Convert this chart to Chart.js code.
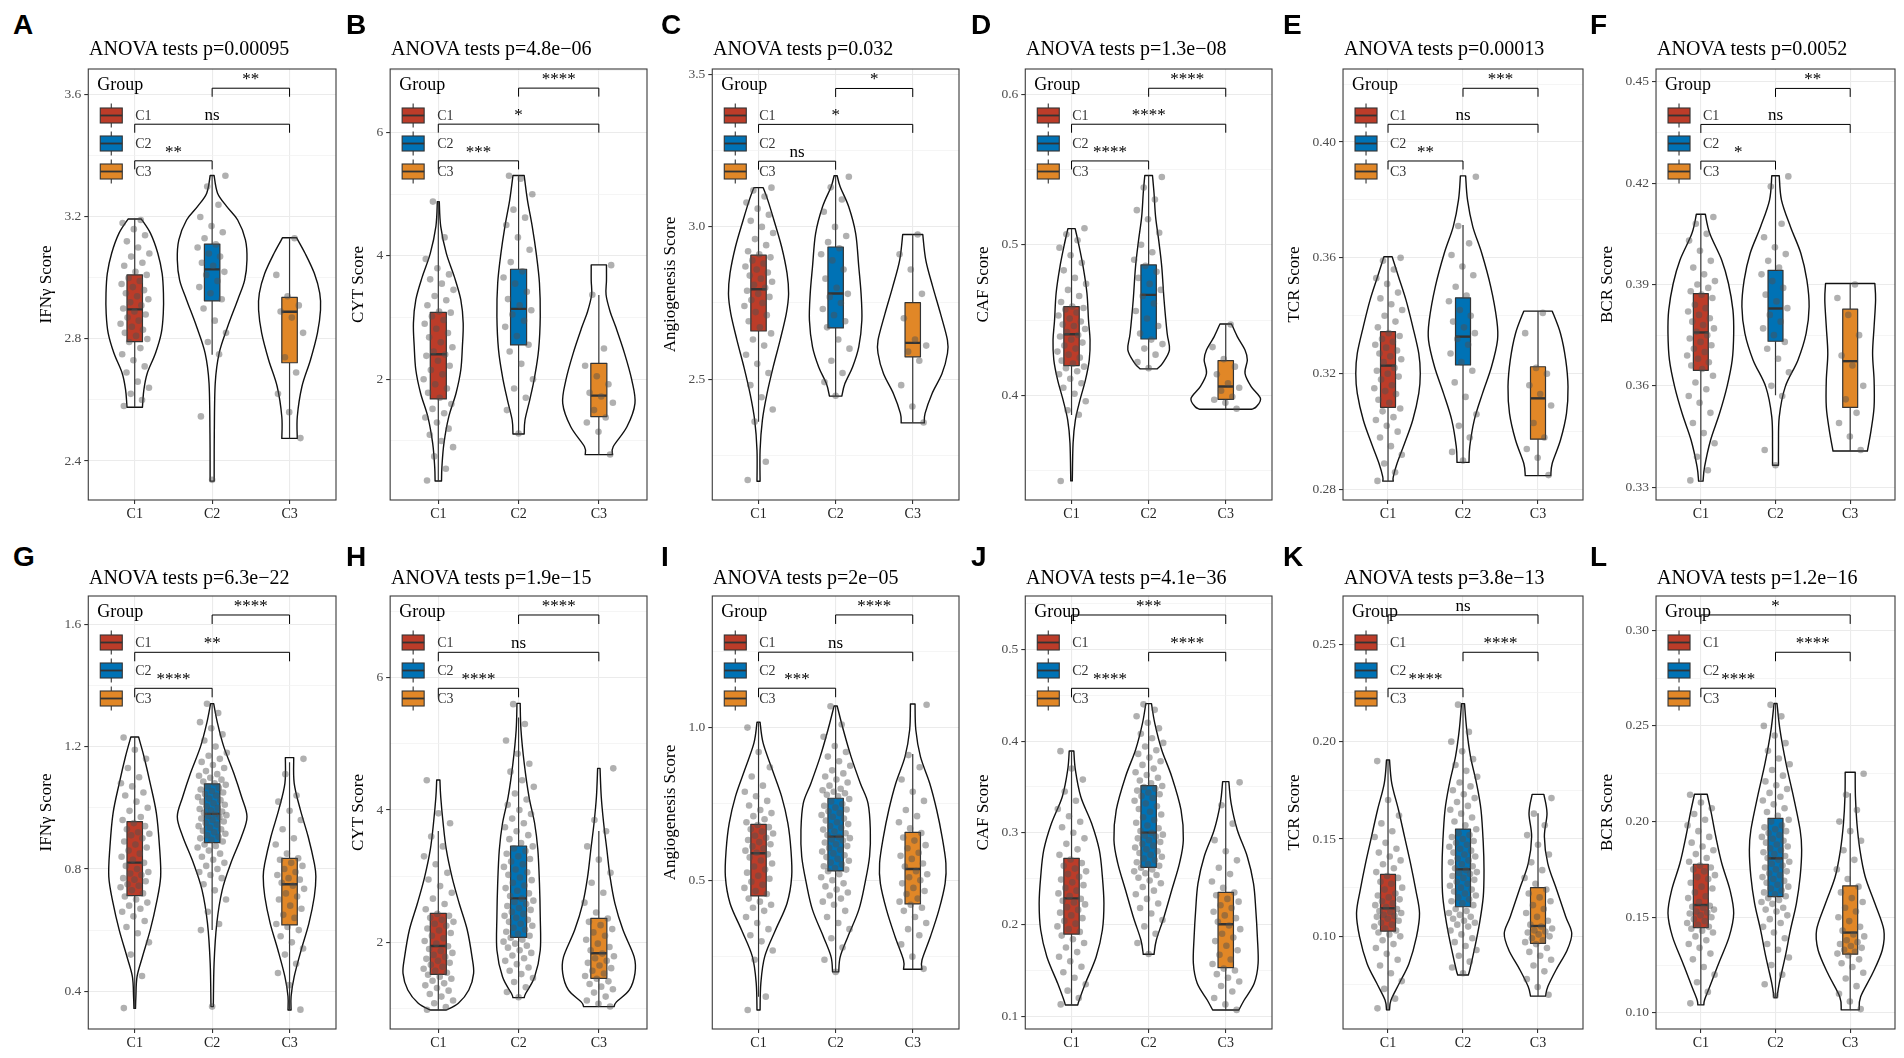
<!DOCTYPE html>
<html><head><meta charset="utf-8">
<script src="https://cdn.jsdelivr.net/npm/chart.js@4.4.0/dist/chart.umd.min.js"></script>
<style>
html,body{margin:0;padding:0;background:#fff;}
body{position:relative;width:1904px;height:1058px;overflow:hidden;}
.lbl{position:absolute;font-family:'Liberation Sans',Arial,sans-serif;font-weight:bold;font-size:28px;line-height:28px;color:#000;white-space:nowrap;}
.ttl{position:absolute;font-family:'Liberation Serif','Times New Roman',serif;font-size:20px;line-height:20px;color:#000;white-space:nowrap;}
canvas{position:absolute;}
</style></head><body>
<script>
// ---------------- DATA ----------------
const CATEGORIES = ['C1','C2','C3'];
const LEGEND_TITLE = 'Group';
const PANEL_LETTERS = ['A','B','C','D','E','F','G','H','I','J','K','L'];
const PANEL_TITLES = ['ANOVA tests p=0.00095','ANOVA tests p=4.8e\u221206','ANOVA tests p=0.032','ANOVA tests p=1.3e\u221208','ANOVA tests p=0.00013','ANOVA tests p=0.0052',
  'ANOVA tests p=6.3e\u221222','ANOVA tests p=1.9e\u221215','ANOVA tests p=2e\u221205','ANOVA tests p=4.1e\u221236','ANOVA tests p=3.8e\u221213','ANOVA tests p=1.2e\u221216'];
const Y_TITLES = ['IFN\u03b3 Score','CYT Score','Angiogenesis Score','CAF Score','TCR Score','BCR Score',
  'IFN\u03b3 Score','CYT Score','Angiogenesis Score','CAF Score','TCR Score','BCR Score'];
const Y_RANGES = [[2.272,3.685],[0.043,7.03],[2.1025,3.519],[0.3304,0.6168],[0.2764,0.4252],[0.3262,0.4538],
  [0.2767,1.6925],[0.690,7.235],[0.013,1.431],[0.0862,0.5581],[0.0524,0.2748],[0.0916,0.3179]];
const Y_MAJOR = [[2.4,2.8,3.2,3.6],[2,4,6],[2.5,3.0,3.5],[0.4,0.5,0.6],[0.28,0.32,0.36,0.40],[0.33,0.36,0.39,0.42,0.45],
  [0.4,0.8,1.2,1.6],[2,4,6],[0.5,1.0],[0.1,0.2,0.3,0.4,0.5],[0.10,0.15,0.20,0.25],[0.10,0.15,0.20,0.25,0.30]];
const Y_MAJOR_LABELS = [['2.4','2.8','3.2','3.6'],['2','4','6'],['2.5','3.0','3.5'],['0.4','0.5','0.6'],['0.28','0.32','0.36','0.40'],['0.33','0.36','0.39','0.42','0.45'],
  ['0.4','0.8','1.2','1.6'],['2','4','6'],['0.5','1.0'],['0.1','0.2','0.3','0.4','0.5'],['0.10','0.15','0.20','0.25'],['0.10','0.15','0.20','0.25','0.30']];
const Y_MINOR = [[2.6,3.0,3.4],[1,3,5,7],[2.25,2.75,3.25],[0.35,0.45,0.55],[0.30,0.34,0.38,0.42],[0.345,0.375,0.405,0.435],
  [0.6,1.0,1.4],[1,3,5,7],[0.25,0.75,1.25],[0.15,0.25,0.35,0.45,0.55],[0.075,0.125,0.175,0.225],[0.125,0.175,0.225,0.275]];

// box statistics per panel, per group: [lower whisker, Q1, median, Q3, upper whisker]
const BOX_STATS = [
  [[2.576,2.791,2.897,3.010,3.193],[2.748,2.925,3.028,3.111,3.336],[2.474,2.722,2.889,2.936,3.132]],
  [[0.351,1.681,2.405,3.086,4.88],[1.114,2.557,3.141,3.784,5.303],[0.778,1.395,1.735,2.259,3.368]],
  [[2.36,2.658,2.795,2.907,3.129],[2.444,2.668,2.781,2.934,3.168],[2.356,2.573,2.619,2.751,2.975]],
  [[0.3869,0.4197,0.4405,0.4589,0.5107],[0.4175,0.4374,0.4667,0.4866,0.546],[0.3907,0.3973,0.4058,0.423,0.4474]],
  [[0.283,0.3084,0.3228,0.3345,0.3604],[0.2894,0.323,0.3328,0.3462,0.3713],[0.2848,0.2974,0.3115,0.3224,0.3416]],
  [[0.332,0.3646,0.3758,0.3873,0.4108],[0.3572,0.3732,0.3829,0.3942,0.4222],[0.3407,0.3536,0.3673,0.3827,0.3903]],
  [[0.344,0.7128,0.8207,0.9548,1.2316],[0.6,0.8861,0.98,1.078,1.3406],[0.339,0.6169,0.7499,0.8349,1.149]],
  [[0.977,1.516,1.945,2.438,3.683],[1.164,2.076,2.665,3.456,5.4],[1.028,1.456,1.834,2.363,3.683]],
  [[0.119,0.4487,0.5884,0.6834,1.0175],[0.2,0.5306,0.643,0.7686,1.071],[0.2085,0.4225,0.5371,0.6572,0.9138]],
  [[0.1124,0.1897,0.2286,0.2722,0.3892],[0.1676,0.2624,0.3002,0.3514,0.4408],[0.1069,0.153,0.2003,0.2352,0.3558]],
  [[0.062,0.1027,0.1144,0.1318,0.1906],[0.0801,0.1152,0.1344,0.1551,0.2195],[0.0693,0.0964,0.1053,0.125,0.1632]],
  [[0.1042,0.1446,0.1564,0.1777,0.2143],[0.108,0.1608,0.1808,0.2017,0.2617],[0.1016,0.1307,0.142,0.1664,0.2148]]
];

// violin density profiles per group: [value, half-width in category units]
const VIOLIN_A = [
  [[3.193,0.086],[3.146,0.204],[3.081,0.298],[3.015,0.354],[2.950,0.371],[2.884,0.369],[2.819,0.343],[2.753,0.268],[2.687,0.161],[2.633,0.118],[2.589,0.103],[2.576,0.10]],
  [[3.336,0.025],[3.278,0.07],[3.234,0.19],[3.19,0.33],[3.125,0.43],[3.06,0.45],[2.993,0.42],[2.928,0.33],[2.84,0.2],[2.753,0.09],[2.655,0.04],[2.49,0.028],[2.334,0.026]],
  [[3.132,0.09],[3.081,0.2],[3.015,0.32],[2.95,0.39],[2.895,0.40],[2.819,0.36],[2.731,0.27],[2.644,0.16],[2.545,0.10],[2.474,0.10]]];
const VIOLIN_B = [
  [[4.88,0.012],[4.48,0.03],[4.04,0.1],[3.66,0.2],[3.29,0.28],[2.91,0.31],[2.53,0.3],[2.15,0.28],[1.77,0.22],[1.39,0.13],[0.96,0.07],[0.58,0.045],[0.351,0.04]],
  [[5.303,0.07],[4.91,0.11],[4.48,0.17],[4.04,0.22],[3.56,0.26],[3.02,0.27],[2.48,0.25],[2.04,0.2],[1.67,0.14],[1.34,0.08],[1.114,0.07]],
  [[3.854,0.095],[3.6,0.095],[3.37,0.09],[3.1,0.14],[2.85,0.21],[2.42,0.32],[1.99,0.41],[1.61,0.45],[1.23,0.35],[0.91,0.18],[0.778,0.17]]];
const VIOLIN_C = [
  [[3.129,0.06],[3.088,0.12],[3.022,0.2],[2.934,0.3],[2.847,0.37],[2.78,0.39],[2.715,0.36],[2.628,0.28],[2.54,0.19],[2.452,0.11],[2.365,0.05],[2.266,0.02],[2.164,0.02]],
  [[3.168,0.02],[3.131,0.06],[3.066,0.17],[2.978,0.26],[2.869,0.3],[2.78,0.33],[2.693,0.34],[2.606,0.3],[2.54,0.22],[2.485,0.12],[2.444,0.08]],
  [[2.975,0.13],[2.89,0.17],[2.803,0.26],[2.715,0.36],[2.628,0.45],[2.584,0.45],[2.518,0.38],[2.452,0.25],[2.387,0.16],[2.356,0.15]]];
const VIOLIN_D = [
  [[0.5107,0.047],[0.501,0.09],[0.4855,0.15],[0.4678,0.2],[0.450,0.22],[0.4368,0.24],[0.4235,0.23],[0.410,0.18],[0.3969,0.11],[0.3836,0.05],[0.3681,0.02],[0.3431,0.01]],
  [[0.546,0.05],[0.5342,0.07],[0.5187,0.09],[0.5032,0.13],[0.4855,0.17],[0.4633,0.2],[0.4412,0.24],[0.4301,0.27],[0.4212,0.18],[0.4175,0.11]],
  [[0.4474,0.075],[0.439,0.15],[0.4301,0.25],[0.4235,0.28],[0.4146,0.25],[0.4058,0.33],[0.398,0.45],[0.3925,0.4],[0.3907,0.34]]];
const VIOLIN_E = [
  [[0.3604,0.055],[0.3535,0.14],[0.3454,0.24],[0.3362,0.33],[0.327,0.41],[0.3201,0.43],[0.3132,0.41],[0.304,0.33],[0.2959,0.22],[0.289,0.12],[0.2844,0.07],[0.2829,0.07]],
  [[0.3883,0.035],[0.38,0.06],[0.3708,0.13],[0.3616,0.25],[0.35,0.37],[0.3385,0.45],[0.3316,0.46],[0.3224,0.38],[0.3132,0.26],[0.304,0.15],[0.2948,0.09],[0.2894,0.08]],
  [[0.3416,0.19],[0.3339,0.3],[0.3247,0.37],[0.3155,0.4],[0.3063,0.38],[0.2971,0.3],[0.2891,0.19],[0.2848,0.17]]];
const VIOLIN_F = [
  [[0.4108,0.06],[0.4051,0.12],[0.3972,0.28],[0.3903,0.37],[0.3824,0.43],[0.3755,0.44],[0.3676,0.42],[0.3597,0.35],[0.3518,0.25],[0.3439,0.13],[0.336,0.05],[0.3318,0.03]],
  [[0.4222,0.05],[0.415,0.08],[0.4071,0.2],[0.3992,0.34],[0.3913,0.42],[0.3834,0.45],[0.3755,0.41],[0.3676,0.3],[0.3597,0.13],[0.3508,0.05],[0.3419,0.04],[0.3365,0.04]],
  [[0.3903,0.33],[0.3854,0.34],[0.3775,0.32],[0.3696,0.30],[0.3617,0.32],[0.3538,0.32],[0.3469,0.28],[0.3407,0.23]]];
const VIOLIN_G = [
  [[1.2316,0.05],[1.167,0.12],[1.08,0.2],[0.982,0.28],[0.873,0.32],[0.775,0.335],[0.688,0.28],[0.6,0.2],[0.513,0.1],[0.448,0.03],[0.383,0.015],[0.344,0.01]],
  [[1.3406,0.02],[1.276,0.07],[1.2,0.15],[1.113,0.28],[1.036,0.38],[0.971,0.45],[0.906,0.38],[0.818,0.24],[0.731,0.13],[0.622,0.06],[0.491,0.025],[0.35,0.015]],
  [[1.164,0.054],[1.08,0.06],[0.993,0.14],[0.906,0.24],[0.818,0.32],[0.775,0.34],[0.71,0.32],[0.622,0.25],[0.535,0.15],[0.448,0.06],[0.383,0.02],[0.339,0.02]]];
const VIOLIN_H = [
  [[4.453,0.02],[4.2,0.03],[3.8,0.06],[3.4,0.1],[2.99,0.17],[2.59,0.26],[2.19,0.36],[1.78,0.42],[1.53,0.44],[1.28,0.38],[1.08,0.25],[0.977,0.1]],
  [[5.612,0.02],[5.21,0.03],[4.71,0.07],[4.2,0.13],[3.8,0.2],[3.4,0.24],[2.9,0.26],[2.39,0.27],[1.88,0.27],[1.48,0.2],[1.23,0.09],[1.164,0.07]],
  [[4.63,0.015],[4.2,0.03],[3.8,0.06],[3.4,0.1],[2.99,0.14],[2.59,0.2],[2.19,0.3],[1.78,0.44],[1.53,0.45],[1.28,0.38],[1.1,0.22],[1.028,0.19]]];
const VIOLIN_I = [
  [[1.0175,0.02],[0.949,0.06],[0.861,0.18],[0.774,0.3],[0.687,0.38],[0.6,0.42],[0.512,0.43],[0.425,0.37],[0.337,0.22],[0.25,0.08],[0.163,0.03],[0.075,0.02]],
  [[1.071,0.02],[0.992,0.1],[0.905,0.2],[0.818,0.32],[0.752,0.42],[0.665,0.45],[0.578,0.44],[0.49,0.38],[0.403,0.3],[0.316,0.16],[0.25,0.06],[0.2,0.04]],
  [[1.0775,0.03],[0.992,0.04],[0.905,0.1],[0.818,0.22],[0.731,0.31],[0.643,0.38],[0.556,0.43],[0.49,0.42],[0.403,0.34],[0.316,0.23],[0.239,0.12],[0.2085,0.12]]];
const VIOLIN_J = [
  [[0.3892,0.03],[0.3685,0.05],[0.3394,0.12],[0.3104,0.26],[0.2813,0.36],[0.2522,0.4],[0.2232,0.42],[0.1941,0.4],[0.165,0.32],[0.136,0.18],[0.1178,0.1],[0.1124,0.08]],
  [[0.4408,0.037],[0.4193,0.08],[0.3903,0.17],[0.3612,0.3],[0.3249,0.42],[0.2922,0.45],[0.2668,0.4],[0.2377,0.3],[0.2086,0.2],[0.1832,0.1],[0.1676,0.07]],
  [[0.3558,0.04],[0.3322,0.07],[0.3031,0.15],[0.274,0.28],[0.245,0.36],[0.2159,0.39],[0.1868,0.41],[0.1578,0.42],[0.136,0.37],[0.1178,0.24],[0.1069,0.17]]];
const VIOLIN_K = [
  [[0.1906,0.02],[0.1786,0.05],[0.1649,0.14],[0.1512,0.22],[0.1375,0.3],[0.1238,0.37],[0.1118,0.42],[0.0998,0.38],[0.0861,0.28],[0.0759,0.15],[0.0673,0.04],[0.0622,0.02]],
  [[0.2195,0.02],[0.206,0.05],[0.1923,0.1],[0.1786,0.18],[0.1649,0.24],[0.1478,0.27],[0.1341,0.28],[0.1204,0.27],[0.1067,0.22],[0.093,0.15],[0.0827,0.09],[0.0801,0.07]],
  [[0.1729,0.078],[0.1632,0.12],[0.1512,0.085],[0.1375,0.13],[0.1238,0.25],[0.1101,0.37],[0.1015,0.45],[0.093,0.39],[0.0827,0.24],[0.0741,0.13],[0.0693,0.1]]];
const VIOLIN_L = [
  [[0.2143,0.085],[0.2044,0.14],[0.1922,0.2],[0.1782,0.28],[0.1643,0.39],[0.1521,0.44],[0.1399,0.38],[0.126,0.24],[0.1138,0.12],[0.1068,0.05],[0.1042,0.04]],
  [[0.2617,0.02],[0.2479,0.06],[0.2305,0.14],[0.2131,0.24],[0.1956,0.33],[0.1852,0.35],[0.1713,0.33],[0.1573,0.28],[0.1434,0.2],[0.1294,0.13],[0.1155,0.05],[0.108,0.02]],
  [[0.2258,0.067],[0.2131,0.07],[0.1991,0.09],[0.1852,0.13],[0.1713,0.2],[0.1573,0.33],[0.1434,0.45],[0.1329,0.43],[0.1207,0.3],[0.1085,0.14],[0.1016,0.12]]];

// individual sample scores
const POINTS_A = [
  [2.58,2.60,2.62,2.64,2.66,2.69,2.71,2.73,2.75,2.77,2.79,2.80,2.81,2.82,2.83,2.84,2.85,2.86,2.87,2.88,2.89,2.90,2.91,2.92,2.93,2.94,2.95,2.96,2.97,2.98,2.99,3.00,3.01,3.02,3.04,3.05,3.07,3.08,3.10,3.12,3.14,3.16,3.18,3.19],
  [2.338,2.546,2.75,2.79,2.82,2.86,2.90,2.93,2.95,2.97,2.99,3.01,3.02,3.04,3.05,3.07,3.08,3.10,3.11,3.13,3.15,3.17,3.20,3.24,3.30,3.335],
  [2.475,2.56,2.62,2.69,2.74,2.82,2.87,2.89,2.91,2.94,3.01,3.13]];
const POINTS_B = [
  [0.36,0.55,0.75,0.9,1.0,1.1,1.2,1.3,1.38,1.45,1.52,1.6,1.7,1.78,1.85,1.92,2.0,2.08,2.15,2.22,2.3,2.38,2.4,2.45,2.52,2.6,2.68,2.75,2.82,2.9,2.96,3.02,3.08,3.1,3.2,3.28,3.35,3.45,3.55,3.62,3.7,3.8,3.95,4.3,4.88],
  [1.12,1.5,1.7,1.85,2.0,2.25,2.45,2.56,2.7,2.85,2.95,3.05,3.12,3.2,3.3,3.42,3.55,3.65,3.75,3.9,4.1,4.3,4.5,4.62,4.75,5.0,5.25,5.3],
  [0.78,1.15,1.3,1.38,1.5,1.62,1.72,1.78,1.92,2.05,2.22,2.5,3.37,3.85]];
const POINTS_C = [
  [2.168,2.228,2.36,2.40,2.44,2.48,2.52,2.55,2.58,2.61,2.63,2.65,2.67,2.69,2.71,2.72,2.74,2.75,2.76,2.77,2.78,2.79,2.80,2.81,2.82,2.83,2.84,2.85,2.86,2.87,2.88,2.89,2.90,2.91,2.92,2.94,2.96,2.98,3.00,3.02,3.04,3.06,3.08,3.10,3.12,3.129],
  [2.445,2.49,2.52,2.56,2.60,2.63,2.67,2.69,2.71,2.73,2.75,2.77,2.78,2.80,2.83,2.86,2.89,2.91,2.93,2.95,2.97,3.00,3.05,3.09,3.13,3.165],
  [2.357,2.41,2.48,2.56,2.59,2.61,2.63,2.70,2.78,2.86,2.91,2.975]];
const POINTS_D = [
  [0.343,0.387,0.390,0.396,0.401,0.405,0.408,0.411,0.414,0.416,0.418,0.419,0.421,0.423,0.425,0.427,0.429,0.431,0.433,0.435,0.437,0.439,0.440,0.442,0.444,0.446,0.447,0.449,0.451,0.453,0.455,0.457,0.458,0.459,0.462,0.466,0.470,0.474,0.478,0.483,0.488,0.493,0.498,0.503,0.507,0.511],
  [0.418,0.422,0.427,0.431,0.434,0.437,0.441,0.446,0.451,0.456,0.461,0.466,0.470,0.474,0.478,0.482,0.486,0.490,0.495,0.500,0.508,0.517,0.523,0.530,0.538,0.545],
  [0.391,0.395,0.397,0.399,0.403,0.405,0.408,0.414,0.419,0.424,0.432,0.447]];
const POINTS_E = [
  [0.283,0.286,0.289,0.292,0.295,0.298,0.300,0.302,0.304,0.305,0.307,0.308,0.310,0.311,0.313,0.314,0.315,0.316,0.318,0.319,0.320,0.321,0.322,0.324,0.325,0.326,0.327,0.328,0.329,0.330,0.331,0.332,0.333,0.334,0.336,0.338,0.340,0.342,0.344,0.346,0.348,0.351,0.353,0.356,0.359,0.360],
  [0.290,0.293,0.298,0.302,0.306,0.312,0.317,0.321,0.324,0.327,0.330,0.332,0.334,0.336,0.338,0.340,0.342,0.345,0.347,0.350,0.354,0.357,0.361,0.365,0.371,0.388],
  [0.285,0.291,0.294,0.298,0.303,0.309,0.313,0.316,0.320,0.322,0.334,0.341]];
const POINTS_F = [
  [0.332,0.335,0.339,0.343,0.346,0.349,0.352,0.355,0.357,0.359,0.361,0.363,0.365,0.366,0.367,0.368,0.369,0.370,0.371,0.372,0.373,0.374,0.375,0.376,0.377,0.378,0.379,0.380,0.381,0.382,0.383,0.384,0.386,0.387,0.388,0.389,0.390,0.391,0.393,0.395,0.397,0.400,0.403,0.405,0.408,0.410],
  [0.3365,0.341,0.357,0.360,0.364,0.368,0.371,0.373,0.375,0.377,0.379,0.381,0.383,0.385,0.387,0.389,0.391,0.393,0.395,0.397,0.399,0.401,0.404,0.408,0.419,0.422],
  [0.341,0.345,0.349,0.352,0.356,0.360,0.366,0.369,0.375,0.381,0.386,0.390]];
const POINTS_G = [
  [0.345,0.45,0.52,0.56,0.59,0.61,0.63,0.645,0.66,0.67,0.68,0.69,0.70,0.71,0.72,0.73,0.74,0.745,0.75,0.76,0.765,0.77,0.78,0.785,0.79,0.80,0.81,0.82,0.83,0.84,0.85,0.86,0.87,0.88,0.89,0.90,0.91,0.915,0.92,0.93,0.94,0.95,0.96,0.97,0.99,1.00,1.02,1.04,1.05,1.07,1.08,1.10,1.13,1.16,1.19,1.23],
  [0.35,0.60,0.62,0.66,0.70,0.73,0.75,0.77,0.78,0.79,0.80,0.81,0.82,0.83,0.84,0.85,0.86,0.87,0.875,0.88,0.89,0.895,0.90,0.905,0.91,0.915,0.92,0.925,0.93,0.935,0.94,0.945,0.95,0.955,0.96,0.965,0.97,0.973,0.976,0.98,0.984,0.988,0.992,0.996,1.0,1.005,1.01,1.015,1.02,1.025,1.03,1.035,1.04,1.045,1.05,1.055,1.06,1.065,1.07,1.075,1.08,1.086,1.092,1.098,1.105,1.11,1.12,1.13,1.14,1.15,1.16,1.17,1.18,1.20,1.22,1.24,1.26,1.28,1.31,1.34],
  [0.34,0.42,0.46,0.49,0.52,0.54,0.56,0.58,0.60,0.61,0.62,0.64,0.65,0.67,0.68,0.70,0.71,0.72,0.735,0.745,0.755,0.765,0.77,0.78,0.79,0.80,0.81,0.82,0.83,0.835,0.85,0.88,0.90,0.93,0.96,0.99,1.02,1.04,1.11,1.16]];
const POINTS_H = [
  [0.98,1.02,1.08,1.12,1.18,1.22,1.27,1.31,1.35,1.38,1.42,1.45,1.48,1.51,1.54,1.57,1.6,1.63,1.66,1.69,1.72,1.75,1.78,1.81,1.84,1.87,1.9,1.94,1.98,2.02,2.06,2.1,2.14,2.18,2.21,2.25,2.28,2.31,2.34,2.37,2.4,2.43,2.5,2.58,2.66,2.75,2.85,2.95,3.05,3.18,3.3,3.45,3.6,3.8,3.95,4.45],
  [1.17,1.25,1.32,1.4,1.46,1.52,1.57,1.62,1.67,1.72,1.76,1.8,1.84,1.88,1.92,1.95,1.98,2.01,2.04,2.07,2.1,2.13,2.16,2.19,2.22,2.25,2.28,2.31,2.34,2.37,2.4,2.43,2.46,2.49,2.52,2.55,2.58,2.61,2.63,2.66,2.7,2.74,2.78,2.82,2.86,2.9,2.94,2.98,3.02,3.06,3.1,3.14,3.18,3.22,3.26,3.3,3.34,3.38,3.42,3.45,3.5,3.56,3.62,3.68,3.74,3.8,3.87,3.94,4.0,4.08,4.16,4.25,4.35,4.45,4.58,4.7,4.85,5.05,5.3,5.6],
  [1.03,1.07,1.12,1.18,1.24,1.29,1.33,1.37,1.41,1.45,1.49,1.53,1.57,1.61,1.65,1.69,1.72,1.76,1.79,1.83,1.88,1.93,1.98,2.04,2.1,2.15,2.2,2.26,2.31,2.36,2.45,2.6,2.75,2.9,3.05,3.25,3.45,3.68,3.85,4.63]];
const POINTS_I = [
  [0.075,0.119,0.24,0.27,0.30,0.32,0.34,0.36,0.38,0.40,0.41,0.42,0.43,0.44,0.455,0.465,0.475,0.485,0.495,0.505,0.515,0.525,0.535,0.545,0.555,0.565,0.575,0.585,0.59,0.597,0.604,0.611,0.618,0.625,0.632,0.639,0.646,0.653,0.66,0.667,0.674,0.681,0.69,0.70,0.71,0.72,0.73,0.745,0.76,0.775,0.79,0.81,0.84,0.87,0.92,1.0],
  [0.20,0.24,0.28,0.31,0.34,0.36,0.38,0.40,0.42,0.43,0.44,0.45,0.46,0.47,0.48,0.49,0.50,0.51,0.52,0.53,0.535,0.54,0.546,0.552,0.558,0.564,0.57,0.576,0.582,0.588,0.594,0.6,0.606,0.612,0.618,0.624,0.63,0.634,0.638,0.642,0.648,0.654,0.66,0.666,0.672,0.678,0.684,0.69,0.696,0.702,0.708,0.714,0.72,0.726,0.732,0.738,0.744,0.75,0.758,0.766,0.775,0.78,0.785,0.79,0.795,0.80,0.81,0.82,0.83,0.84,0.85,0.86,0.875,0.89,0.905,0.92,0.94,0.97,1.01,1.07],
  [0.21,0.25,0.29,0.32,0.34,0.36,0.38,0.40,0.41,0.42,0.43,0.44,0.455,0.465,0.475,0.49,0.50,0.51,0.52,0.53,0.545,0.555,0.57,0.58,0.59,0.605,0.615,0.63,0.64,0.655,0.67,0.69,0.71,0.73,0.76,0.79,0.83,0.87,0.91,1.075]];
const POINTS_J = [
  [0.113,0.12,0.128,0.135,0.142,0.148,0.154,0.16,0.165,0.17,0.175,0.18,0.184,0.188,0.192,0.195,0.198,0.201,0.204,0.207,0.21,0.213,0.216,0.219,0.222,0.224,0.226,0.228,0.231,0.234,0.237,0.24,0.243,0.246,0.249,0.252,0.255,0.258,0.261,0.264,0.267,0.271,0.276,0.282,0.288,0.294,0.30,0.306,0.312,0.318,0.326,0.335,0.345,0.358,0.37,0.389],
  [0.168,0.18,0.19,0.198,0.205,0.212,0.218,0.223,0.228,0.233,0.237,0.241,0.245,0.248,0.251,0.254,0.256,0.258,0.26,0.262,0.264,0.266,0.268,0.27,0.272,0.274,0.276,0.278,0.28,0.282,0.284,0.286,0.288,0.29,0.292,0.294,0.296,0.297,0.298,0.3,0.302,0.305,0.308,0.311,0.314,0.317,0.32,0.323,0.326,0.329,0.332,0.335,0.338,0.34,0.342,0.344,0.346,0.348,0.35,0.351,0.354,0.357,0.36,0.363,0.366,0.37,0.374,0.378,0.382,0.386,0.39,0.394,0.398,0.403,0.408,0.414,0.42,0.427,0.434,0.44],
  [0.107,0.113,0.12,0.127,0.133,0.138,0.142,0.146,0.15,0.152,0.157,0.162,0.167,0.172,0.177,0.182,0.186,0.19,0.195,0.199,0.203,0.207,0.21,0.214,0.218,0.221,0.225,0.228,0.232,0.235,0.24,0.247,0.255,0.262,0.27,0.28,0.292,0.31,0.33,0.355]];
const POINTS_K = [
  [0.063,0.068,0.073,0.077,0.081,0.085,0.088,0.091,0.094,0.096,0.098,0.1,0.101,0.102,0.103,0.104,0.105,0.106,0.107,0.108,0.109,0.11,0.1105,0.111,0.112,0.1125,0.113,0.114,0.115,0.116,0.117,0.118,0.119,0.12,0.121,0.122,0.124,0.125,0.127,0.128,0.13,0.131,0.133,0.135,0.137,0.139,0.141,0.143,0.145,0.148,0.151,0.154,0.158,0.162,0.17,0.19],
  [0.081,0.084,0.087,0.09,0.093,0.095,0.097,0.099,0.101,0.103,0.105,0.106,0.107,0.108,0.109,0.11,0.111,0.112,0.113,0.114,0.116,0.117,0.118,0.119,0.12,0.121,0.122,0.123,0.124,0.125,0.126,0.127,0.128,0.129,0.13,0.131,0.132,0.1325,0.133,0.134,0.135,0.136,0.137,0.138,0.139,0.14,0.141,0.142,0.143,0.144,0.145,0.146,0.147,0.148,0.149,0.15,0.151,0.152,0.153,0.155,0.157,0.159,0.161,0.163,0.165,0.167,0.169,0.171,0.173,0.175,0.177,0.179,0.182,0.185,0.188,0.191,0.195,0.2,0.205,0.219],
  [0.07,0.074,0.078,0.082,0.085,0.088,0.09,0.092,0.094,0.096,0.097,0.098,0.099,0.1,0.101,0.102,0.1025,0.103,0.104,0.105,0.106,0.108,0.11,0.112,0.114,0.116,0.118,0.12,0.122,0.124,0.127,0.13,0.134,0.138,0.142,0.147,0.152,0.157,0.163,0.171]];
const POINTS_L = [
  [0.105,0.111,0.116,0.12,0.124,0.128,0.131,0.134,0.136,0.138,0.14,0.142,0.143,0.144,0.145,0.146,0.147,0.148,0.149,0.15,0.151,0.152,0.1525,0.153,0.154,0.155,0.1555,0.156,0.158,0.16,0.161,0.163,0.165,0.166,0.168,0.17,0.171,0.172,0.174,0.175,0.176,0.177,0.179,0.181,0.183,0.185,0.187,0.189,0.192,0.195,0.198,0.201,0.204,0.207,0.21,0.214],
  [0.109,0.115,0.12,0.125,0.129,0.133,0.136,0.139,0.142,0.145,0.147,0.149,0.151,0.153,0.154,0.155,0.157,0.158,0.159,0.16,0.161,0.162,0.163,0.164,0.165,0.166,0.167,0.168,0.169,0.17,0.171,0.172,0.173,0.174,0.175,0.176,0.177,0.178,0.179,0.18,0.181,0.182,0.183,0.184,0.185,0.186,0.187,0.188,0.189,0.19,0.191,0.192,0.193,0.194,0.195,0.196,0.197,0.198,0.2,0.201,0.203,0.205,0.207,0.209,0.211,0.213,0.215,0.217,0.219,0.221,0.224,0.227,0.23,0.233,0.237,0.241,0.245,0.25,0.255,0.261],
  [0.102,0.106,0.11,0.114,0.118,0.121,0.124,0.126,0.128,0.13,0.131,0.132,0.133,0.134,0.135,0.136,0.137,0.138,0.14,0.141,0.143,0.145,0.148,0.15,0.153,0.155,0.158,0.16,0.163,0.166,0.17,0.175,0.18,0.185,0.19,0.195,0.2,0.206,0.214,0.225]];

// pairwise comparison brackets: [group from, group to, bracket level, label]
const BRACKETS_A = [[2,3,3.622,'**'],[1,3,3.504,'ns'],[1,2,3.384,'**']];
const BRACKETS_B = [[2,3,6.72,'****'],[1,3,6.136,'*'],[1,2,5.541,'***']];
const BRACKETS_C = [[2,3,3.455,'*'],[1,3,3.337,'*'],[1,2,3.216,'ns']];
const BRACKETS_D = [[2,3,0.604,'****'],[1,3,0.5801,'****'],[1,2,0.5557,'****']];
const BRACKETS_E = [[2,3,0.41854,'***'],[1,3,0.40611,'ns'],[1,2,0.39344,'**']];
const BRACKETS_F = [[2,3,0.44805,'**'],[1,3,0.43739,'ns'],[1,2,0.42653,'*']];
const BRACKETS_G = [[2,3,1.6304,'****'],[1,3,1.5084,'**'],[1,2,1.3907,'****']];
const BRACKETS_H = [[2,3,6.948,'****'],[1,3,6.384,'ns'],[1,2,5.84,'****']];
const BRACKETS_I = [[2,3,1.369,'****'],[1,3,1.247,'ns'],[1,2,1.129,'***']];
const BRACKETS_J = [[1,3,0.5374,'***'],[2,3,0.4967,'****'],[1,2,0.4575,'****']];
const BRACKETS_K = [[1,3,0.2651,'ns'],[2,3,0.2459,'****'],[1,2,0.2274,'****']];
const BRACKETS_L = [[1,3,0.308,'*'],[2,3,0.2885,'****'],[1,2,0.2697,'****']];
const BRACKET_TIPS = [0.028,0.138,0.028,0.00565,0.00293,0.00252,0.0294,0.136,0.0295,0.0098,0.0046,0.0047];

// ---------------- LAYOUT / STYLE ----------------
const VIOLINS = [VIOLIN_A,VIOLIN_B,VIOLIN_C,VIOLIN_D,VIOLIN_E,VIOLIN_F,VIOLIN_G,VIOLIN_H,VIOLIN_I,VIOLIN_J,VIOLIN_K,VIOLIN_L];
const POINTS = [POINTS_A,POINTS_B,POINTS_C,POINTS_D,POINTS_E,POINTS_F,POINTS_G,POINTS_H,POINTS_I,POINTS_J,POINTS_K,POINTS_L];
const BRACKETS = [BRACKETS_A,BRACKETS_B,BRACKETS_C,BRACKETS_D,BRACKETS_E,BRACKETS_F,BRACKETS_G,BRACKETS_H,BRACKETS_I,BRACKETS_J,BRACKETS_K,BRACKETS_L];
const GROUP_COLORS = ['#BC3C29','#0072B5','#E18727'];
const PLOT_LEFT = [88,390,712,1025,1343,1656];
const PLOT_RIGHT = [336,647,959,1272,1583,1895];
const PLOT_TOP = [69,596];
const PLOT_BOTTOM = [500,1029];
const LETTER_X = [13,346,661,971,1283,1590];
const LETTER_BASE = [35,566.7];
const TITLE_BASE = [55,583.3];
const SERIF = "'Liberation Serif','Times New Roman',serif";
const BOX_HALF = 0.1, JITTER = 0.19;

Chart.defaults.font.family = SERIF;

function jitter(i, g) {
  const f = (i * 0.6180339887 + g * 0.37 + 0.13) % 1;
  return (f - 0.5) * 2 * JITTER;
}
function catmull(ctx, pts) {
  for (let i = 0; i < pts.length - 1; i++) {
    const p0 = pts[i-1] || pts[i], p1 = pts[i], p2 = pts[i+1], p3 = pts[i+2] || pts[i+1];
    ctx.bezierCurveTo(p1[0] + (p2[0]-p0[0])/6, p1[1] + (p2[1]-p0[1])/6,
                      p2[0] - (p3[0]-p1[0])/6, p2[1] - (p3[1]-p1[1])/6, p2[0], p2[1]);
  }
}
function drawViolin(ctx, xs, ys, g, prof) {
  const R = prof.map(([v,w]) => [xs.getPixelForValue(g + w), ys.getPixelForValue(v)]);
  const Lp = prof.map(([v,w]) => [xs.getPixelForValue(g - w), ys.getPixelForValue(v)]).reverse();
  ctx.beginPath();
  ctx.moveTo(Lp[Lp.length-1][0], Lp[Lp.length-1][1]);
  ctx.lineTo(R[0][0], R[0][1]);
  catmull(ctx, R);
  ctx.lineTo(Lp[0][0], Lp[0][1]);
  catmull(ctx, Lp);
  ctx.closePath();
  ctx.fillStyle = '#ffffff'; ctx.fill();
  ctx.strokeStyle = '#111111'; ctx.lineWidth = 1.4; ctx.lineJoin = 'round'; ctx.stroke();
}
function drawBox(ctx, xs, ys, g, st, color) {
  const [lo,q1,md,q3,hi] = st;
  const xc = xs.getPixelForValue(g), xl = xs.getPixelForValue(g - BOX_HALF), xr = xs.getPixelForValue(g + BOX_HALF);
  ctx.strokeStyle = '#333333'; ctx.lineWidth = 1.2;
  ctx.beginPath();
  ctx.moveTo(xc, ys.getPixelForValue(hi)); ctx.lineTo(xc, ys.getPixelForValue(q3));
  ctx.moveTo(xc, ys.getPixelForValue(q1)); ctx.lineTo(xc, ys.getPixelForValue(lo));
  ctx.stroke();
  const yt = ys.getPixelForValue(q3), yb = ys.getPixelForValue(q1);
  ctx.fillStyle = color; ctx.fillRect(xl, yt, xr - xl, yb - yt);
  ctx.strokeRect(xl, yt, xr - xl, yb - yt);
  const ym = ys.getPixelForValue(md);
  ctx.lineWidth = 2.4; ctx.beginPath(); ctx.moveTo(xl, ym); ctx.lineTo(xr, ym); ctx.stroke();
}

const panelPlugin = {
  id: 'panel',
  beforeDatasetsDraw(chart, args, opts) {
    const p = opts.p, ctx = chart.ctx, xs = chart.scales.x, ys = chart.scales.y, ca = chart.chartArea;
    ctx.save();
    ctx.beginPath(); ctx.rect(ca.left, ca.top, ca.right - ca.left, ca.bottom - ca.top); ctx.clip();
    VIOLINS[p].forEach((prof, g) => drawViolin(ctx, xs, ys, g + 1, prof));
    BOX_STATS[p].forEach((st, g) => drawBox(ctx, xs, ys, g + 1, st, GROUP_COLORS[g]));
    ctx.restore();
  },
  afterDatasetsDraw(chart, args, opts) {
    const p = opts.p, ctx = chart.ctx, xs = chart.scales.x, ys = chart.scales.y, ca = chart.chartArea;
    ctx.save();
    // brackets
    ctx.strokeStyle = '#000'; ctx.lineWidth = 1; ctx.fillStyle = '#000';
    ctx.font = '17px ' + SERIF; ctx.textAlign = 'center'; ctx.textBaseline = 'alphabetic';
    BRACKETS[p].forEach(([a, b, y, lab]) => {
      const xa = xs.getPixelForValue(a), xb = xs.getPixelForValue(b);
      const py = ys.getPixelForValue(y), pt = ys.getPixelForValue(y - BRACKET_TIPS[p]);
      ctx.beginPath(); ctx.moveTo(xa, pt); ctx.lineTo(xa, py); ctx.lineTo(xb, py); ctx.lineTo(xb, pt); ctx.stroke();
      ctx.fillText(lab, (xa + xb) / 2, py - 4);
    });
    // legend
    ctx.textAlign = 'left'; ctx.textBaseline = 'middle';
    ctx.font = '18px ' + SERIF; ctx.fillStyle = '#000';
    ctx.fillText(LEGEND_TITLE, ca.left + 9, ca.top + 16);
    CATEGORIES.forEach((c, g) => {
      const cy = ca.top + 46.5 + g * 28, kx = ca.left + 12, kw = 22, kh = 15;
      ctx.strokeStyle = '#333'; ctx.lineWidth = 1.1;
      ctx.beginPath(); ctx.moveTo(kx + kw/2, cy - 12); ctx.lineTo(kx + kw/2, cy + 12); ctx.stroke();
      ctx.fillStyle = GROUP_COLORS[g]; ctx.fillRect(kx, cy - kh/2, kw, kh);
      ctx.strokeRect(kx, cy - kh/2, kw, kh);
      ctx.lineWidth = 1.8; ctx.beginPath(); ctx.moveTo(kx, cy); ctx.lineTo(kx + kw, cy); ctx.stroke();
      ctx.fillStyle = '#333'; ctx.font = '14px ' + SERIF;
      ctx.fillText(c, ca.left + 47, cy + 0.5);
    });
    // panel border
    ctx.strokeStyle = '#3a3a3a'; ctx.lineWidth = 1.1;
    ctx.strokeRect(ca.left, ca.top, ca.right - ca.left, ca.bottom - ca.top);
    ctx.restore();
  }
};

function isMajor(p, v) { return Y_MAJOR[p].some(m => Math.abs(m - v) < 1e-9); }

function makeConfig(p) {
  const yTicks = Y_MAJOR[p].concat(Y_MINOR[p]).sort((a, b) => a - b);
  return {
    type: 'scatter',
    data: {
      datasets: POINTS[p].map((vals, g) => ({
        data: vals.map((v, i) => ({ x: g + 1 + jitter(i, g), y: v })),
        pointRadius: 3.3, backgroundColor: 'rgba(80,80,80,0.45)', borderWidth: 0, pointBorderWidth: 0
      }))
    },
    options: {
      responsive: false, animation: false, devicePixelRatio: 1, events: [],
      layout: { padding: { top: 14, right: 6, left: 2, bottom: 0 } },
      plugins: { legend: { display: false }, tooltip: { enabled: false }, panel: { p } },
      scales: {
        x: {
          type: 'linear', min: 0.4, max: 3.6,
          afterBuildTicks: s => { s.ticks = [1, 2, 3].map(v => ({ value: v })); },
          afterFit: s => { s.height = 26; },
          ticks: { autoSkip: false, maxRotation: 0, padding: 2, color: '#222',
                   font: { family: SERIF, size: 14 }, callback: v => CATEGORIES[Math.round(v) - 1] },
          grid: { color: '#EBEBEB', lineWidth: 1.1, tickLength: 4, tickColor: '#333', drawTicks: true },
          border: { display: false }
        },
        y: {
          type: 'linear', min: Y_RANGES[p][0], max: Y_RANGES[p][1],
          afterBuildTicks: s => { s.ticks = yTicks.map(v => ({ value: v })); },
          ticks: { autoSkip: false, padding: 3, color: '#4D4D4D', font: { family: SERIF, size: 13.5 },
                   callback: v => { const i = Y_MAJOR[p].findIndex(m => Math.abs(m - v) < 1e-9); return i >= 0 ? Y_MAJOR_LABELS[p][i] : ''; } },
          grid: {
            color: c => isMajor(p, c.tick.value) ? '#EBEBEB' : '#F1F1F1',
            lineWidth: c => isMajor(p, c.tick.value) ? 1.1 : 0.7,
            tickLength: 4,
            tickColor: c => isMajor(p, c.tick.value) ? '#333' : 'rgba(0,0,0,0)',
            drawTicks: true
          },
          border: { display: false },
          title: { display: true, text: Y_TITLES[p], color: '#000', font: { family: SERIF, size: 17 }, padding: { top: 0, bottom: 5 } }
        }
      }
    },
    plugins: [panelPlugin]
  };
}

function buildPanel(p) {
  const col = p % 6, row = Math.floor(p / 6);
  const L = PLOT_LEFT[col], R = PLOT_RIGHT[col], T = PLOT_TOP[row], B = PLOT_BOTTOM[row];
  const cv = document.createElement('canvas');
  document.body.appendChild(cv);
  cv.width = 130 + (R - L) + 10; cv.height = 14 + (B - T) + 26;
  let ch = new Chart(cv, makeConfig(p));
  const a = ch.chartArea;
  const offL = a.left, offT = a.top, offR = cv.width - a.right, offB = cv.height - a.bottom;
  ch.destroy();
  cv.width = Math.round(offL + (R - L) + offR);
  cv.height = Math.round(offT + (B - T) + offB);
  ch = new Chart(cv, makeConfig(p));
  const a2 = ch.chartArea;
  cv.style.left = Math.round(L - a2.left) + 'px';
  cv.style.top = Math.round(T - a2.top) + 'px';

  const lt = document.createElement('div');
  lt.className = 'lbl'; lt.textContent = PANEL_LETTERS[p];
  lt.style.left = LETTER_X[col] + 'px'; lt.style.top = (LETTER_BASE[row] - 23.7) + 'px';
  document.body.appendChild(lt);
  const tt = document.createElement('div');
  tt.className = 'ttl'; tt.textContent = PANEL_TITLES[p];
  tt.style.left = (L + 1) + 'px'; tt.style.top = (TITLE_BASE[row] - 16.75) + 'px';
  document.body.appendChild(tt);
}

for (let p = 0; p < 12; p++) buildPanel(p);
</script>
</body></html>
